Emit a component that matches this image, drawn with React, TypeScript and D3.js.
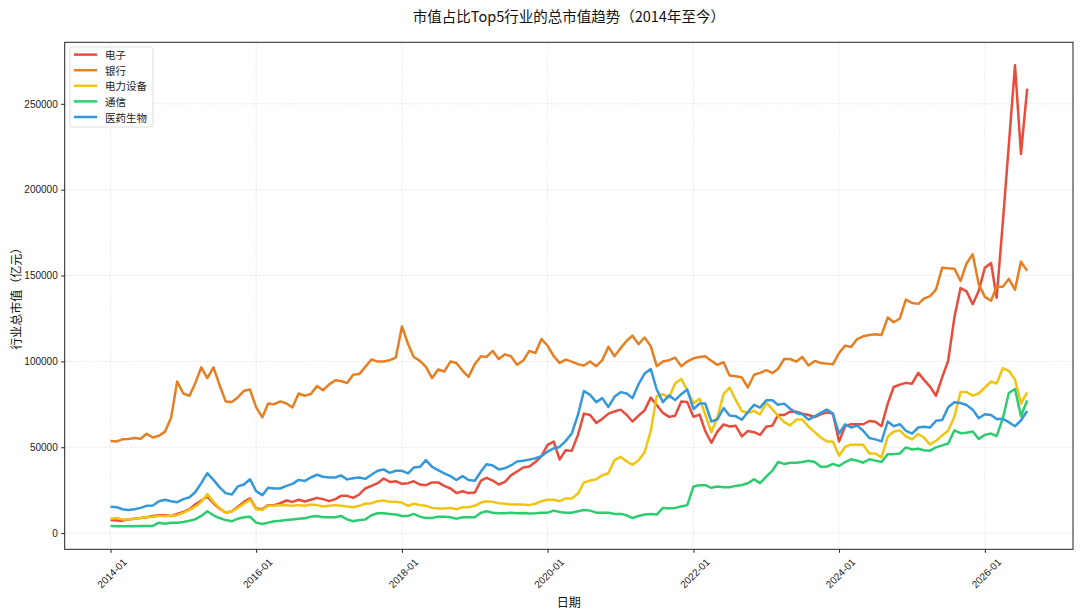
import React, { useEffect, useRef } from "react";
import * as d3 from "d3";

// 月度数据起始月份（亿元）
const START_MONTH = "2014-01";
const industries = ["电子", "银行", "电力设备", "通信", "医药生物"];
const colors = ["#e74c3c", "#e67e22", "#f1c40f", "#2ecc71", "#3498db"];

const electronics = [
  7600, 7400, 7200, 8000, 8400, 8800, 9200, 10000, 10400, 10400, 10000, 11200,
  12300, 13900, 16700, 19000, 21300, 17400, 14300, 11900, 12700, 15400, 18200, 20200,
  14300, 13900, 16300, 16300, 17400, 19000, 18200, 19400, 18400, 19400, 20500, 19800,
  18600, 19800, 21700, 21700, 20500, 22500, 26000, 27500, 29100, 31800, 29800, 30200,
  28700, 29100, 30200, 28300, 27900, 29500, 29500, 27500, 26000, 23300, 24400, 23300,
  23600, 30600, 32200, 30600, 28300, 29800, 33600, 35900, 38200, 38800, 41400, 44800,
  51400, 53300, 42900, 48300, 47900, 57200, 69600, 68800, 64200, 66500, 69600, 70800,
  71900, 68800, 65000, 68400, 71500, 78900, 74600, 70000, 67700, 68400, 76700, 76300,
  67800, 69000, 59500, 52600, 59100, 63300, 62100, 62500, 56300, 59500, 58800, 57200,
  61900, 62600, 68800, 68800, 70700, 70700, 69600, 68800, 67600, 69200, 70300, 69600,
  53400, 62300, 63400, 63400, 63400, 65300, 64900, 62300, 75400, 85100, 86500, 87500,
  87000, 93300, 89400, 85300, 80000, 90700, 100400, 125500, 142700, 140800, 133300, 141000,
  154600, 157300, 137100, 181000, 226000, 272400, 220800, 258800,
];

const banks = [
  53600, 53400, 54600, 54800, 55400, 55000, 57900, 55700, 56700, 59100, 67400, 88300,
  81300, 80000, 87100, 96500, 90300, 96500, 86400, 76700, 76300, 79000, 82900, 83600,
  73200, 67400, 75500, 75100, 76700, 75500, 73200, 81300, 80000, 81000, 85600, 83200,
  86600, 89000, 88600, 87400, 92200, 92600, 96800, 101100, 99900, 99900, 100700, 102200,
  120400, 110000, 102600, 100300, 96800, 90300, 95300, 94100, 99900, 99100, 94500, 91000,
  98400, 103000, 102600, 106100, 101400, 104100, 103000, 98000, 100500, 106100, 104900, 113000,
  109100, 103000, 99100, 101000, 99900, 98400, 97600, 99900, 97200, 100700, 108500, 103000,
  107700, 112000, 115000, 110000, 113900, 108900, 97200, 99900, 100700, 102200, 97200, 99900,
  101800, 102600, 103000, 100300, 98000, 99500, 91800, 91400, 90600, 84800, 92200, 93300,
  94900, 93300, 95600, 101400, 101400, 99900, 102600, 97600, 100300, 99100, 98700, 98300,
  104900, 109200, 108400, 113000, 114600, 115400, 115800, 115400, 125500, 122800, 125000, 136000,
  134000, 133500, 136500, 138000, 141800, 154600, 154200, 154000, 146800, 157000, 162400, 145000,
  137600, 135300, 143500, 143500, 148100, 141800, 158100, 152700,
];

const powerEquipment = [
  8300, 8800, 8000, 8000, 8400, 8800, 9200, 9600, 10000, 10000, 10000, 10400,
  11900, 13500, 15400, 18200, 22700, 18200, 14700, 11900, 12700, 14700, 17100, 19400,
  13900, 13500, 15900, 15900, 16300, 16300, 15900, 16300, 15900, 16700, 16300, 15500,
  15900, 16300, 15900, 15500, 15100, 15900, 17100, 17400, 18600, 19000, 18200, 18200,
  17800, 15900, 17100, 16300, 15900, 14700, 14300, 14300, 14700, 13900, 15100, 15100,
  15900, 17800, 18600, 18200, 17400, 17100, 16700, 16700, 16700, 16300, 17100, 18600,
  19400, 19400, 18600, 20200, 20200, 22900, 29500, 30600, 31400, 33700, 34900, 42500,
  44400, 41700, 39800, 42500, 47100, 59500, 79700, 80900, 78900, 87100, 89800, 83200,
  75500, 78200, 69200, 58700, 67300, 80900, 84800, 77500, 71100, 69900, 71200, 69100,
  76000, 72100, 68300, 64600, 62700, 66100, 66100, 62000, 58800, 55700, 53400, 53400,
  45000, 50300, 51500, 51500, 51500, 46400, 46400, 44100, 56100, 59200, 59700, 56400,
  54600, 57700, 55700, 51700, 53800, 56900, 59600, 67700, 82200, 82200, 80100, 81300,
  84800, 88300, 87100, 96000, 94500, 89400, 75500, 82000,
];

const telecom = [
  4200, 4000, 4000, 4000, 4000, 4200, 4200, 4200, 6100, 5500, 6100, 6100,
  6500, 7200, 8000, 10000, 12700, 10400, 8800, 7600, 6900, 8400, 9200, 9600,
  6100, 5300, 6100, 6900, 7200, 7600, 8000, 8400, 8600, 9600, 10000, 9200,
  9200, 9200, 10000, 8000, 6900, 7600, 8000, 10400, 11600, 11600, 11200, 10800,
  10000, 10000, 11200, 9600, 8800, 8800, 9600, 9600, 9200, 8400, 9200, 9200,
  9200, 11900, 12700, 11900, 11600, 11600, 11900, 11600, 11700, 11400, 11600, 11900,
  11900, 13100, 12300, 11900, 11900, 12700, 13500, 13100, 11900, 11900, 11900, 11200,
  11200, 10400, 8800, 10000, 10800, 11200, 10800, 14700, 14300, 14700, 15500, 16300,
  27100, 27900, 27900, 26400, 27100, 26700, 26700, 27500, 28000, 29000, 31400, 29100,
  32900, 36400, 41400, 40300, 41000, 41000, 41400, 42200, 41400, 38700, 38700, 40300,
  39100, 41400, 43000, 42200, 41000, 43000, 42200, 41400, 46000, 46000, 46400, 49900,
  48700, 49100, 48300, 48000, 49900, 51100, 52200, 59800, 58200, 58400, 59200, 54900,
  57200, 58000, 56500, 66900, 81600, 83900, 68100, 77300,
];

const pharma = [
  15400, 15100, 13900, 13500, 13900, 14700, 15900, 16100, 18600, 19400, 18600, 18000,
  19800, 20900, 23800, 29100, 34900, 31000, 26800, 23300, 22500, 27200, 28300, 31400,
  24400, 22100, 26400, 26000, 26000, 27500, 28700, 31000, 30400, 32400, 34000, 32800,
  32400, 32400, 33600, 31300, 32000, 32400, 31600, 34000, 36300, 37100, 35100, 36300,
  36300, 34800, 38200, 38600, 42500, 38600, 36700, 34800, 33200, 30900, 33200, 30900,
  30500, 35900, 40100, 39400, 37100, 37800, 39400, 41700, 42100, 42800, 43600, 44800,
  47500, 49400, 50200, 53700, 58000, 68800, 82800, 80500, 76300, 78600, 73500, 79400,
  82100, 81300, 78600, 86700, 92900, 95600, 83600, 76300, 80200, 77500, 80900, 83600,
  72300, 75500, 75500, 65000, 66200, 72800, 68500, 68100, 66000, 70500, 74700, 73100,
  77400, 77400, 74700, 75400, 72400, 70000, 69200, 66100, 68000, 70000, 71900, 69600,
  58000, 63400, 61500, 62600, 59600, 55400, 54600, 53400, 65000, 62300, 63400, 59600,
  58000, 61500, 62000, 61500, 65400, 65900, 73300, 76200, 75800, 74600, 71900, 66900,
  69200, 68800, 66500, 66500, 64600, 62200, 65700, 71100,
];

const yTicks = [0, 50000, 100000, 150000, 200000, 250000];

const App = () => {
  const ref = useRef<SVGSVGElement>(null);

  useEffect(() => {
    const width = 1080;
    const height = 614;
    const left = 64.7;
    const right = 1073;
    const top = 42.3;
    const bottom = 549.3;

    const svg = d3.select(ref.current);
    svg.selectAll("*").remove();

    const series = [electronics, banks, powerEquipment, telecom, pharma];
    const start = d3.timeParse("%Y-%m")(START_MONTH) as Date;
    const dates = electronics.map((_, i) => d3.timeMonth.offset(start, i));

    // matplotlib 默认 5% 边距
    const t0 = +dates[0];
    const t1 = +dates[dates.length - 1];
    const tp = (t1 - t0) * 0.05;
    const x = d3
      .scaleTime()
      .domain([new Date(t0 - tp), new Date(t1 + tp)])
      .range([left, right]);

    const [mn, mx] = d3.extent(series.flat()) as [number, number];
    const yp = (mx - mn) * 0.05;
    const y = d3
      .scaleLinear()
      .domain([mn - yp, mx + yp])
      .range([bottom, top]);

    const xTicks = x.ticks(d3.timeYear.every(2) as d3.TimeInterval);

    svg.append("rect").attr("width", width).attr("height", height).attr("fill", "#fff");

    // grid
    const grid = svg.append("g").attr("stroke", "#b0b0b0").attr("stroke-opacity", 0.3)
      .attr("stroke-width", 0.8).attr("stroke-dasharray", "3,1.3");
    grid.selectAll("line.gx").data(xTicks).enter().append("line")
      .attr("x1", (d) => x(d)).attr("x2", (d) => x(d)).attr("y1", top).attr("y2", bottom);
    grid.selectAll("line.gy").data(yTicks).enter().append("line")
      .attr("x1", left).attr("x2", right).attr("y1", (d) => y(d)).attr("y2", (d) => y(d));

    // lines
    const line = d3
      .line<number>()
      .x((_, i) => x(dates[i]))
      .y((d) => y(d));
    svg.selectAll("path.series").data(series).enter().append("path")
      .attr("class", "series")
      .attr("fill", "none")
      .attr("stroke", (_, i) => colors[i])
      .attr("stroke-width", 2.5)
      .attr("stroke-linejoin", "round")
      .attr("d", (d) => line(d));

    // axes
    const yAxis = svg.append("g").attr("transform", `translate(${left},0)`)
      .call(d3.axisLeft(y).tickValues(yTicks).tickFormat(d3.format("d")).tickSize(3.5).tickPadding(3.5));
    yAxis.select(".domain").remove();
    yAxis.selectAll("line").attr("stroke", "#222");
    yAxis.selectAll("text").attr("font-family", "'Liberation Sans', Arial, sans-serif")
      .attr("font-size", 10).attr("fill", "#222");

    const xAxis = svg.append("g").attr("transform", `translate(0,${bottom})`)
      .call(d3.axisBottom(x).tickValues(xTicks).tickFormat(d3.timeFormat("%Y-%m") as any).tickSize(3.5));
    xAxis.select(".domain").remove();
    xAxis.selectAll("line").attr("stroke", "#222");
    xAxis.selectAll("text")
      .attr("font-family", "'Liberation Sans', Arial, sans-serif")
      .attr("font-size", 10)
      .attr("fill", "#222")
      .attr("text-anchor", "middle")
      .attr("y", 0)
      .attr("dy", "0.35em")
      .attr("transform", "translate(1,24) rotate(-45)");

    svg.append("rect").attr("x", left).attr("y", top)
      .attr("width", right - left).attr("height", bottom - top)
      .attr("fill", "none").attr("stroke", "#222").attr("stroke-width", 1);

    // title & labels
    const cjk = "'Noto Sans CJK SC', sans-serif";
    svg.append("text").attr("x", (left + right) / 2).attr("y", 15)
      .attr("text-anchor", "middle").attr("dominant-baseline", "central")
      .attr("font-family", cjk).attr("font-size", 14.5).attr("fill", "#111")
      .text("市值占比Top5行业的总市值趋势（2014年至今）");
    svg.append("text").attr("x", (left + right) / 2).attr("y", 601)
      .attr("text-anchor", "middle").attr("dominant-baseline", "central")
      .attr("font-family", cjk).attr("font-size", 12).attr("fill", "#111")
      .text("日期");
    svg.append("text").attr("transform", `translate(15,${(top + bottom) / 2}) rotate(-90)`)
      .attr("text-anchor", "middle").attr("dominant-baseline", "central")
      .attr("font-family", cjk).attr("font-size", 12).attr("fill", "#111")
      .text("行业总市值（亿元）");

    // legend
    const lg = svg.append("g").attr("transform", "translate(70,47)");
    lg.append("rect").attr("width", 83).attr("height", 80).attr("rx", 2.5)
      .attr("fill", "#fff").attr("fill-opacity", 0.8).attr("stroke", "#d5d5d5").attr("stroke-width", 0.8);
    const items = lg.selectAll("g.item").data(industries).enter().append("g")
      .attr("transform", (_, i) => `translate(0,${7.6 + i * 15.6})`);
    items.append("line").attr("x1", 4).attr("x2", 27)
      .attr("stroke", (_, i) => colors[i]).attr("stroke-width", 2.5);
    items.append("text").attr("x", 35).attr("dominant-baseline", "central")
      .attr("font-family", cjk).attr("font-size", 10.5).attr("fill", "#222")
      .text((d) => d);
  }, []);

  return (
    <svg
      ref={ref}
      width={1080}
      height={614}
      style={{ position: "absolute", left: 0, top: 0, display: "block" }}
    />
  );
};

export default App;
